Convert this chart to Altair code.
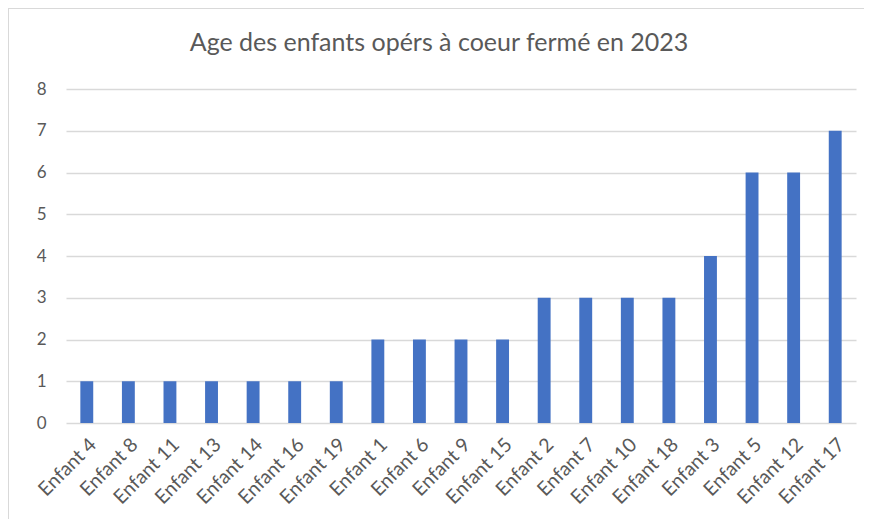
import altair as alt
import pandas as pd

categories = ["Enfant 4", "Enfant 8", "Enfant 11", "Enfant 13", "Enfant 14",
              "Enfant 16", "Enfant 19", "Enfant 1", "Enfant 6", "Enfant 9",
              "Enfant 15", "Enfant 2", "Enfant 7", "Enfant 10", "Enfant 18",
              "Enfant 3", "Enfant 5", "Enfant 12", "Enfant 17"]
ages = [1, 1, 1, 1, 1, 1, 1, 2, 2, 2, 2, 3, 3, 3, 3, 4, 6, 6, 7]
y_ticks = [0, 1, 2, 3, 4, 5, 6, 7, 8]
title_text = "Age des enfants opérs à coeur fermé en 2023"

df = pd.DataFrame({"enfant": categories, "age": ages})

FONT = "Lato"
GREY = "#595959"

bars = alt.Chart(df).mark_bar(color="#4472C4").encode(
    x=alt.X("enfant:N", sort=categories,
            scale=alt.Scale(paddingInner=0.69, paddingOuter=0.345),
            axis=alt.Axis(title=None, labelAngle=-45, labelFontSize=19.5,
                          labelColor=GREY, labelFont=FONT, ticks=False,
                          domain=False, labelPadding=12, grid=False)),
    y=alt.Y("age:Q", scale=alt.Scale(domain=[0, 8], nice=False),
            axis=alt.Axis(title=None, values=y_ticks, labelFontSize=17,
                          labelColor=GREY, labelFont=FONT, ticks=False,
                          domain=False, labelPadding=20, grid=True,
                          gridColor="#d9d9d9", gridWidth=1.5)),
)

one = alt.Data(values=[{"k": 1}])
top_border = alt.Chart(one).mark_rule(color="#d9d9d9", strokeWidth=2).encode(
    x=alt.value(-58), x2=alt.value(810), y=alt.value(-81))
left_border = alt.Chart(one).mark_rule(color="#d9d9d9", strokeWidth=2).encode(
    x=alt.value(-58), y=alt.value(-81), y2=alt.value(450))

chart = alt.layer(bars, top_border, left_border).properties(
    width=790, height=334,
    title=alt.TitleParams(title_text, fontSize=25, font=FONT, color=GREY,
                          fontWeight="normal", anchor="middle",
                          baseline="alphabetic", offset=-69, dx=-22),
    autosize=alt.AutoSizeParams(type="none"),
    padding={"left": 58, "top": 81, "right": 8, "bottom": 96},
).configure_view(stroke=None)

chart.save("out.html", embed_options={"renderer": "svg", "actions": False})
